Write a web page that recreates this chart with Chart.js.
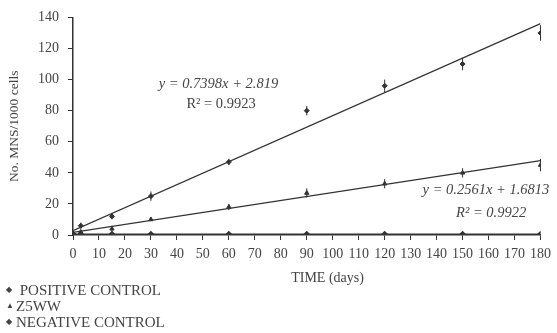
<!DOCTYPE html>
<html>
<head>
<meta charset="utf-8">
<script src="https://cdn.jsdelivr.net/npm/chart.js@4"></script>
<style>
  body { margin: 0; background: #fff; }
  #wrap { position: relative; width: 557px; height: 333px; }
  #legend { position: absolute; left: 6px; top: 282px; font-family: "Liberation Serif", serif; font-size: 15px; color: #444; }
  #legend div { height: 16px; line-height: 16px; white-space: nowrap; }
  #legend span.m { display: inline-block; width: 10px; font-size: 8px; vertical-align: top; }
</style>
</head>
<body>
<div id="wrap">
  <canvas id="chart" width="557" height="333"></canvas>
  <div id="legend">
    <div><span class="m">&#9670;</span> POSITIVE CONTROL</div>
    <div><span class="m">&#9650;</span>Z5WW</div>
    <div><span class="m">&#9670;</span>NEGATIVE CONTROL</div>
  </div>
</div>
<script>
// values
const days = [0, 3, 15, 30, 60, 90, 120, 150, 180];
const positive = [1, 6, 12, 25, 47, 80, 96, 110, 130];
const positiveErr = [1, 2, 2, 3, 2, 3, 4, 4, 5];
const z5ww = [1, 2, 4, 10, 18, 27, 33, 40, 45];
const z5wwErr = [1, 1, 2, 1, 2, 3, 3, 3, 4];
const negative = [0.5, 0.5, 0.5, 0.5, 0.5, 0.5, 0.5, 0.5, 0.5];
const trendDays = [0, 180];
const trendPositive = [2.8, 136];
const trendZ5ww = [1.7, 47.8];
const xTicks = [0, 10, 20, 30, 40, 50, 60, 70, 80, 90, 100, 110, 120, 130, 140, 150, 160, 170, 180];

const ink = '#333';
const serif = '"Liberation Serif", serif';

const pts = (xs, ys) => xs.map((x, i) => ({ x: x, y: ys[i] }));

// vertical error bars, regression text, x title
const extras = {
    id: 'extras',
    afterDatasetsDraw(chart) {
        const { ctx, scales: { x, y } } = chart;
        ctx.save();
        ctx.strokeStyle = ink;
        ctx.lineWidth = 1;
        [[positive, positiveErr], [z5ww, z5wwErr]].forEach(([vals, errs]) => {
            vals.forEach((v, i) => {
                const px = x.getPixelForValue(days[i]);
                ctx.beginPath();
                ctx.moveTo(px, y.getPixelForValue(v + errs[i]));
                ctx.lineTo(px, y.getPixelForValue(v - errs[i]));
                ctx.stroke();
            });
        });
        ctx.fillStyle = '#444';
        ctx.textAlign = 'center';
        ctx.textBaseline = 'middle';
        ctx.font = 'italic 14.5px ' + serif;
        ctx.fillText('y = 0.7398x + 2.819', x.getPixelForValue(56), y.getPixelForValue(97));
        ctx.fillText('y = 0.2561x + 1.6813', x.getPixelForValue(159), y.getPixelForValue(29));
        ctx.font = '14.5px ' + serif;
        ctx.fillText('R\u00B2 = 0.9923', x.getPixelForValue(57), y.getPixelForValue(84));
        ctx.font = 'italic 14.5px ' + serif;
        ctx.fillText('R\u00B2 = 0.9922', x.getPixelForValue(161), y.getPixelForValue(14));
        ctx.font = '14px ' + serif;
        ctx.fillText('TIME (days)', x.getPixelForValue(98), 278);
        ctx.restore();
    }
};

new Chart(document.getElementById('chart'), {
    type: 'scatter',
    data: {
        datasets: [
            { label: 'trend positive', data: pts(trendDays, trendPositive), showLine: true, borderColor: ink, borderWidth: 1.2, pointRadius: 0 },
            { label: 'trend z5ww', data: pts(trendDays, trendZ5ww), showLine: true, borderColor: ink, borderWidth: 1.2, pointRadius: 0 },
            { label: 'NEGATIVE CONTROL', data: pts(days, negative), showLine: true, borderColor: ink, borderWidth: 1.5, pointStyle: 'rectRot', pointRadius: 2.5, backgroundColor: ink },
            { label: 'POSITIVE CONTROL', data: pts(days, positive), pointStyle: 'rectRot', pointRadius: 2.5, backgroundColor: ink, borderColor: ink },
            { label: 'Z5WW', data: pts(days, z5ww), pointStyle: 'triangle', pointRadius: 2.5, backgroundColor: ink, borderColor: ink }
        ]
    },
    options: {
        responsive: false,
        animation: false,
        layout: { padding: { top: 12, right: 11, left: 0, bottom: 0 } },
        plugins: { legend: { display: false }, tooltip: { enabled: false } },
        scales: {
            x: {
                type: 'linear', min: 0, max: 180,
                afterBuildTicks: (s) => { s.ticks = xTicks.map(v => ({ value: v })); },
                afterFit: (s) => { s.height = 98; },
                grid: { drawOnChartArea: false, color: ink, tickLength: 5 },
                border: { color: ink, width: 1.5 },
                ticks: { color: '#444', font: { family: serif, size: 14 }, padding: 6, maxRotation: 0, autoSkip: false }
            },
            y: {
                min: 0, max: 140,
                ticks: { stepSize: 20, color: '#444', font: { family: serif, size: 14 }, padding: 9 },
                afterFit: (s) => { s.width = 73; },
                grid: { drawOnChartArea: false, color: ink, tickLength: 5 },
                border: { color: ink, width: 1.5 },
                title: { display: true, text: 'No. MNS/1000 cells', color: '#444', font: { family: serif, size: 13.5 }, padding: { top: 6, bottom: 4 } }
            }
        }
    },
    plugins: [extras]
});
</script>
</body>
</html>
